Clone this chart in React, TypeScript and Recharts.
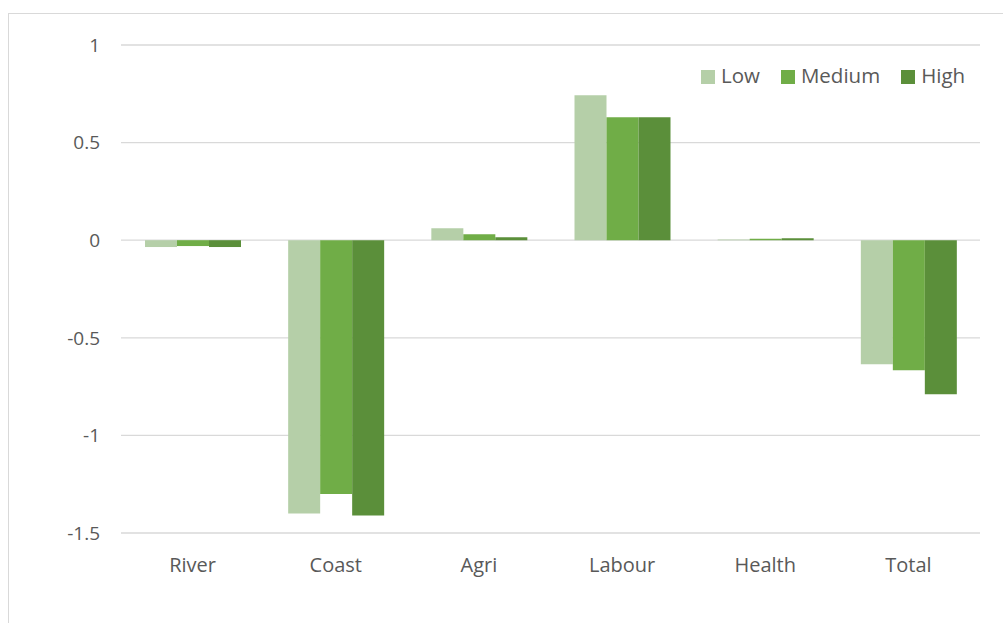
import { BarChart, Bar, XAxis, YAxis, CartesianGrid } from 'recharts';

const categories = ['River', 'Coast', 'Agri', 'Labour', 'Health', 'Total'];
const low = [-0.035, -1.4, 0.061, 0.742, 0.003, -0.635];
const medium = [-0.03, -1.3, 0.03, 0.63, 0.007, -0.666];
const high = [-0.035, -1.41, 0.015, 0.63, 0.01, -0.789];
const yTicks = [-1.5, -1, -0.5, 0, 0.5, 1];

const SERIES = [
  { key: 'Low', color: '#b5cfa8', values: low },
  { key: 'Medium', color: '#70ad47', values: medium },
  { key: 'High', color: '#5b8f3a', values: high },
];

const data = categories.map((name, i) => {
  const row: any = { name };
  SERIES.forEach((s) => (row[s.key] = s.values[i]));
  return row;
});

const FONT = '"Open Sans", sans-serif';
const TEXT = '#595959';

const ChartLegend = () => (
  <div
    style={{
      position: 'absolute', left: 701, top: 61, display: 'flex', alignItems: 'center',
      fontFamily: FONT, fontSize: 20.5, color: TEXT, lineHeight: '28px',
    }}
  >
    {SERIES.map((s, i) => (
      <div key={s.key} style={{ display: 'flex', alignItems: 'center', marginLeft: i ? 21 : 0 }}>
        <span style={{ width: 14, height: 14, background: s.color, display: 'inline-block', marginRight: 6, marginTop: 3 }} />
        <span>{s.key}</span>
      </div>
    ))}
  </div>
);

export default function App() {
  return (
    <div style={{ position: 'fixed', left: 0, top: 0, width: 1003, height: 623, overflow: 'hidden', background: '#fff' }}>
      <div style={{ position: 'absolute', left: 8, top: 13, width: 1100, height: 700, border: '1px solid #d9d9d9' }} />
      <div style={{ position: 'absolute', left: 0, top: 0 }}>
        <BarChart
          width={1003}
          height={623}
          data={data}
          margin={{ top: 45, right: 23, bottom: 60, left: 0 }}
          barCategoryGap={24}
          barGap={0}
        >
          <CartesianGrid vertical={false} stroke="#d9d9d9" strokeWidth={1.3} />
          <XAxis
            dataKey="name"
            axisLine={false}
            tickLine={false}
            tickSize={0}
            tickMargin={25}
            height={30}
            tick={{ fill: TEXT, fontSize: 20, fontFamily: FONT }}
          />
          <YAxis
            domain={[-1.5, 1]}
            ticks={yTicks}
            axisLine={false}
            tickLine={false}
            tickSize={0}
            tickMargin={21}
            width={121}
            tick={{ fill: TEXT, fontSize: 19, fontFamily: FONT }}
          />
          {SERIES.map((s) => (
            <Bar key={s.key} dataKey={s.key} fill={s.color} isAnimationActive={false} />
          ))}
        </BarChart>
      </div>
      <ChartLegend />
    </div>
  );
}
